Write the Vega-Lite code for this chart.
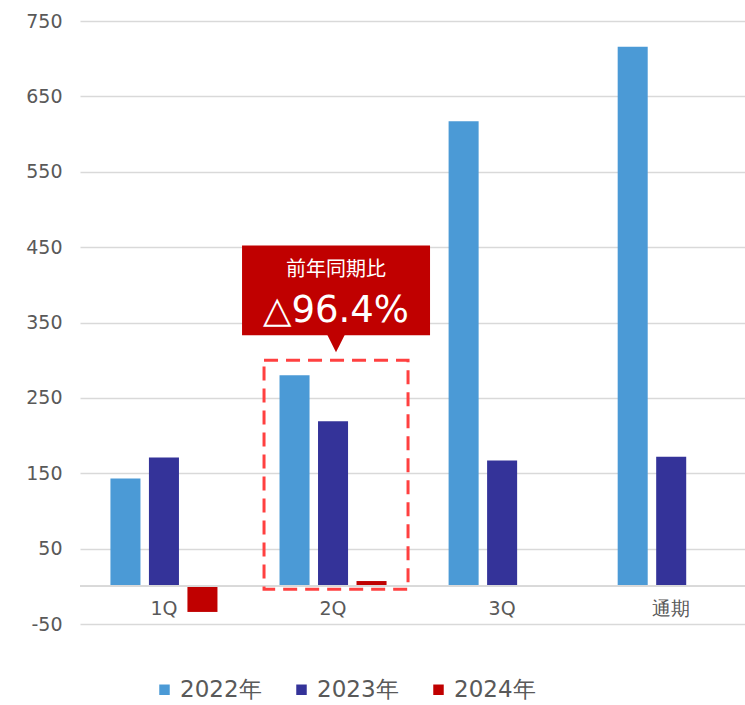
{
  "$schema": "https://vega.github.io/schema/vega-lite/v6.json",
  "width": 665,
  "height": 603,
  "autosize": {"type": "none"},
  "padding": {"left": 80, "top": 21, "right": 0, "bottom": 81},
  "background": "white",
  "config": {
    "view": {"stroke": null},
    "font": "DejaVu Sans"
  },
  "datasets": {
    "main": [
      {"q": "1Q", "year": "2022年", "value": 143},
      {"q": "1Q", "year": "2023年", "value": 171},
      {"q": "1Q", "year": "2024年", "value": -34},
      {"q": "2Q", "year": "2022年", "value": 280},
      {"q": "2Q", "year": "2023年", "value": 219},
      {"q": "2Q", "year": "2024年", "value": 7},
      {"q": "3Q", "year": "2022年", "value": 617},
      {"q": "3Q", "year": "2023年", "value": 167},
      {"q": "通期", "year": "2022年", "value": 716},
      {"q": "通期", "year": "2023年", "value": 172}
    ],
    "note": [
      {"q": "2Q", "line1": "前年同期比", "line2": "△96.4%"}
    ]
  },
  "layer": [
    {
      "data": {"name": "main"},
      "mark": {"type": "bar"},
      "encoding": {
        "x": {
          "field": "q", "type": "nominal", "sort": ["1Q", "2Q", "3Q", "通期"],
          "scale": {"paddingInner": 0.367, "paddingOuter": 0.15, "align": 0.6},
          "axis": {
            "title": null, "orient": "bottom", "offset": -39, "labelPadding": 14,
            "domain": false, "ticks": false, "grid": false, "labelAngle": 0, "labelFontSize": 19,
            "labelColor": "#595959", "labelFont": "DejaVu Sans"
          }
        },
        "xOffset": {
          "field": "year", "type": "nominal",
          "scale": {"paddingInner": 0.22, "paddingOuter": 0}
        },
        "y": {
          "field": "value", "type": "quantitative",
          "scale": {"domain": [-50, 750], "nice": false, "zero": false},
          "axis": {
            "title": null, "values": [-50, 50, 150, 250, 350, 450, 550, 650, 750],
            "grid": true, "domain": false, "ticks": false, "labelPadding": 18, "labelFontSize": 19,
            "labelColor": "#595959", "gridColor": "#D9D9D9", "gridWidth": 1.5,
            "labelFont": "DejaVu Sans",
            "labelExpr": "datum.value < 0 ? '-' + abs(datum.value) : datum.label"
          }
        },
        "color": {
          "field": "year", "type": "nominal",
          "scale": {"domain": ["2022年", "2023年", "2024年"], "range": ["#4B9AD6", "#343399", "#C00000"]},
          "legend": {
            "title": null, "orient": "none", "legendX": 73, "legendY": 657,
            "direction": "horizontal", "symbolType": "square", "symbolSize": 110,
            "labelFontSize": 23, "labelColor": "#595959", "columnPadding": 28,
            "labelOffset": 4, "labelFont": "DejaVu Sans"
          }
        }
      }
    },
    {
      "data": {"name": "main"},
      "mark": {"type": "rule", "color": "#D9D9D9", "strokeWidth": 1.5},
      "encoding": {"y": {"datum": 0, "type": "quantitative"}}
    },
    {
      "data": {"name": "note"},
      "mark": {"type": "bar", "width": 144, "xOffset": 3, "fill": null, "fillOpacity": 0, "stroke": "#FF4040", "strokeWidth": 3, "strokeDash": [14, 8]},
      "encoding": {
        "x": {"field": "q", "type": "nominal"},
        "y": {"datum": 300, "type": "quantitative"},
        "y2": {"datum": -4}
      }
    },
    {
      "data": {"name": "note"},
      "mark": {"type": "bar", "width": 188, "xOffset": 3, "fill": "#C00000"},
      "encoding": {
        "x": {"field": "q", "type": "nominal"},
        "y": {"datum": 452, "type": "quantitative"},
        "y2": {"datum": 333}
      }
    },
    {
      "data": {"name": "note"},
      "mark": {"type": "point", "shape": "M-1,-1L1,-1L0,1Z", "size": 300, "filled": true, "fill": "#C00000", "opacity": 1, "strokeWidth": 0, "xOffset": 3},
      "encoding": {
        "x": {"field": "q", "type": "nominal"},
        "y": {"datum": 322, "type": "quantitative"}
      }
    },
    {
      "data": {"name": "note"},
      "mark": {"type": "text", "color": "white", "fontSize": 20, "xOffset": 3, "baseline": "alphabetic", "font": "Noto Sans CJK JP"},
      "encoding": {
        "x": {"field": "q", "type": "nominal"},
        "y": {"datum": 412, "type": "quantitative"},
        "text": {"field": "line1"}
      }
    },
    {
      "data": {"name": "note"},
      "mark": {"type": "text", "color": "white", "fontSize": 37, "xOffset": 3, "baseline": "alphabetic", "font": "DejaVu Sans"},
      "encoding": {
        "x": {"field": "q", "type": "nominal"},
        "y": {"datum": 351, "type": "quantitative"},
        "text": {"field": "line2"}
      }
    }
  ]
}
